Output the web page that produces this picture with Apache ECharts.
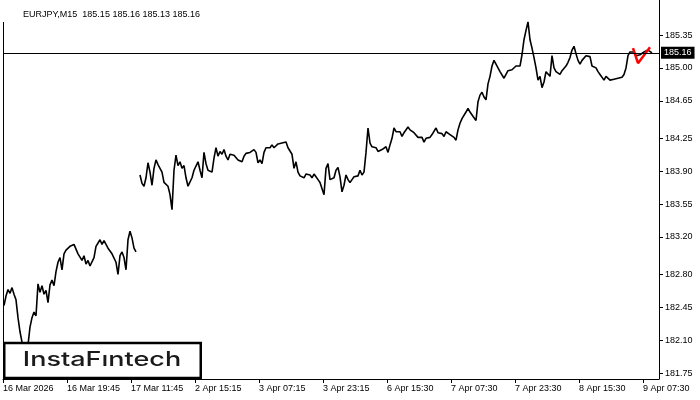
<!DOCTYPE html>
<html><head><meta charset="utf-8">
<script src="https://cdn.jsdelivr.net/npm/echarts@6/dist/echarts.min.js"></script>
<style>html,body{margin:0;padding:0;background:#fff}#c{width:700px;height:400px}</style>
</head><body><div id="c"></div>
<script>
const symbolName = 'EURJPY,M15';
const ohlc = [185.15, 185.16, 185.13, 185.16];
const lastPrice = 185.16;
const brand = 'InstaF\u0131ntech';

const xTickBars = [0, 64, 128, 192, 256, 320, 384, 448, 512, 576, 640];
const xTickLabels = ['16 Mar 2026', '16 Mar 19:45', '17 Mar 11:45', '2 Apr 15:15', '3 Apr 07:15',
  '3 Apr 23:15', '6 Apr 15:30', '7 Apr 07:30', '7 Apr 23:30', '8 Apr 15:30', '9 Apr 07:30'];
const yTicks = [181.75, 182.10, 182.45, 182.80, 183.20, 183.55, 183.90, 184.25, 184.65, 185.00, 185.35];

const firstBar = 1, barStep = 2;
const closesMar = [
  182.47, 182.57, 182.64, 182.60, 182.66, 182.59, 182.53, 182.34, 182.19, 182.08,
  181.99, 181.97, 182.05, 182.24, 182.34, 182.40, 182.36, 182.70, 182.61, 182.68,
  182.59, 182.63, 182.50, 182.69, 182.74, 182.68, 182.83, 182.93, 182.98, 182.85,
  183.02, 183.06, 183.04, 183.10, 183.08, 183.12, 183.10, 183.02, 183.00, 182.95,
  183.00, 182.91, 182.95, 182.89, 182.91, 182.98, 183.10, 183.12, 183.17, 183.12,
  183.16, 183.12, 183.08, 183.06, 183.02, 183.00, 182.93, 182.80, 183.00, 183.04,
  182.98, 182.85, 183.17, 183.26, 183.19, 183.08, 183.04];
const closesApr2 = [
  183.86, 183.77, 183.74, 183.83, 183.99, 183.89, 183.75, 183.93, 184.02, 183.97,
  183.99, 183.89, 183.78, 183.76, 183.74, 183.65, 183.49, 183.91, 184.07, 183.96,
  184.00, 183.93, 183.96, 183.83, 183.74, 183.76, 183.83, 183.91, 183.89, 184.00,
  183.91, 183.83, 184.10, 183.98, 183.91, 183.93, 183.89, 184.04, 184.15, 184.06,
  184.11, 184.08, 184.13, 184.06, 184.02, 184.08, 184.09, 184.07, 184.08, 184.02,
  184.04, 184.00, 184.06, 184.09, 184.07, 184.10, 184.08, 184.13, 184.10, 183.99,
  184.02, 183.98, 184.10, 184.15, 184.17, 184.15, 184.18, 184.15, 184.17, 184.19,
  184.17, 184.20, 184.18, 184.21, 184.15, 184.13, 184.08, 183.93, 184.00, 183.89,
  183.85, 183.87, 183.83, 183.87, 183.85, 183.86, 183.83, 183.87, 183.84, 183.81,
  183.78, 183.77, 183.65, 183.93, 183.98, 183.81];
const closesApr6 = [
  183.81, 183.83, 183.91, 183.94, 183.84, 183.68, 183.75, 183.86, 183.81, 183.78,
  183.81, 183.84, 183.83, 183.85, 183.91, 183.86, 183.89, 184.10, 184.36, 184.20,
  184.16, 184.17, 184.15, 184.11, 184.09, 184.13, 184.15, 184.16, 184.10, 184.18,
  184.25, 184.36, 184.32, 184.30, 184.32, 184.27, 184.31, 184.33, 184.37, 184.34,
  184.32, 184.31, 184.29, 184.26, 184.25, 184.26, 184.21, 184.25, 184.27, 184.26,
  184.29, 184.30, 184.36, 184.31, 184.29, 184.30, 184.27, 184.32, 184.30, 184.29,
  184.27, 184.26, 184.23, 184.34, 184.41, 184.46, 184.48, 184.53, 184.57, 184.53,
  184.55, 184.47, 184.44, 184.64, 184.71, 184.74, 184.69, 184.66, 184.83, 184.91,
  185.02, 185.08, 185.04, 185.00, 184.96, 184.98, 184.89, 184.93, 184.97, 184.96];
const closesApr8 = [
  184.98, 185.00, 185.02, 185.04, 185.02, 185.14, 185.30, 185.40, 185.49, 185.30,
  185.21, 185.11, 185.00, 184.87, 184.91, 184.79, 184.85, 184.96, 184.98, 184.91,
  185.13, 185.00, 184.96, 184.98, 184.93, 184.97, 184.98, 185.02, 185.06, 185.11,
  185.19, 185.23, 185.15, 185.08, 185.04, 185.08, 185.06, 185.13, 185.11, 185.12,
  185.02, 185.04, 185.00, 184.96, 184.93, 184.91, 184.87, 184.91, 184.89, 184.87,
  184.85, 184.88, 184.87, 184.89, 184.91, 184.90, 184.93, 185.00, 185.13, 185.17,
  185.19, 185.17, 185.13, 185.11, 185.14, 185.15, 185.17, 185.16, 185.19, 185.18,
  185.16];
const patternBars = [630, 635, 647];
const patternVals = [185.21, 185.05, 185.22];

const closes = [].concat(closesMar, [null], closesApr2, closesApr6, closesApr8);
const lineData = closes.map((v, i) => [firstBar + barStep * i, v]);
const patternData = patternBars.map((b, i) => [b, patternVals[i]]);

const FONT = 'Liberation Sans';
const chart = echarts.init(document.getElementById('c'), null, {renderer: 'canvas'});
chart.setOption({
  animation: false,
  backgroundColor: '#fff',
  title: {
    text: symbolName + '  ' + ohlc.map(v => v.toFixed(2)).join(' '),
    left: 18, top: 5,
    textStyle: {fontFamily: FONT, fontSize: 9, fontWeight: 'normal', color: '#000'}
  },
  grid: {left: 3, right: 41, top: 0, bottom: 21, containLabel: false},
  xAxis: {
    type: 'value', min: 0, max: 656,
    axisLine: {show: true, onZero: false, lineStyle: {color: '#000', width: 1}},
    axisTick: {show: true, length: 4, lineStyle: {color: '#000'}, customValues: xTickBars},
    axisLabel: {
      customValues: xTickBars, align: 'left', margin: 5,
      fontFamily: FONT, fontSize: 9, color: '#000',
      formatter: v => xTickLabels[Math.round(v / 64)] || ''
    },
    splitLine: {show: false}
  },
  yAxis: {
    type: 'value', position: 'right', min: 181.687, max: 185.723, scale: true,
    axisLine: {show: true, onZero: false, lineStyle: {color: '#000', width: 1}},
    axisTick: {show: true, length: 4, lineStyle: {color: '#000'}, customValues: yTicks},
    axisLabel: {
      customValues: yTicks, margin: 6,
      fontFamily: FONT, fontSize: 9, color: '#000',
      formatter: v => v.toFixed(2)
    },
    splitLine: {show: false}
  },
  series: [
    {
      type: 'line', data: lineData, showSymbol: false, connectNulls: false,
      lineStyle: {color: '#000', width: 1.6}, z: 3,
      markLine: {
        silent: true, symbol: 'none', animation: false,
        lineStyle: {color: '#000', width: 1, type: 'solid'},
        data: [{yAxis: lastPrice}],
        label: {
          show: true, position: 'end', distance: 2,
          formatter: () => lastPrice.toFixed(2),
          backgroundColor: '#000', color: '#fff',
          fontFamily: FONT, fontSize: 9, padding: [2, 3, 1, 3]
        }
      }
    },
    {
      type: 'line', data: patternData, showSymbol: false,
      lineStyle: {color: '#ff0000', width: 2.5}, z: 4
    }
  ],
  graphic: [
    {type: 'line', z: 10, shape: {x1: 3.5, y1: 22, x2: 3.5, y2: 379}, style: {stroke: '#000', lineWidth: 1}},
    {type: 'rect', z: 20, shape: {x: 4.25, y: 343, width: 196.5, height: 35},
      style: {fill: '#fff', stroke: '#000', lineWidth: 2.5}},
    {type: 'text', z: 21, x: 102, y: 360, scaleX: 1.35, originX: 0, originY: 0,
      style: {text: brand, fontFamily: 'Inter', fontSize: 20, fontWeight: 500, fill: '#1a1a1a',
        align: 'center', verticalAlign: 'middle'}}
  ]
});
</script></body></html>
